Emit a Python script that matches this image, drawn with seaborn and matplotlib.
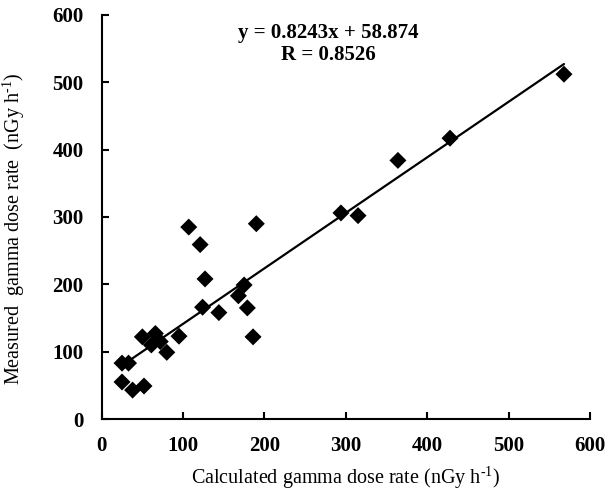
import matplotlib
matplotlib.use("Agg")
import matplotlib.pyplot as plt
import seaborn as sns
import numpy as np
import pandas as pd

# Data
calculated = [25, 33, 25, 38, 52, 50, 66, 61, 72, 80, 95,
              107, 121, 127, 124, 144, 168, 175, 179, 186, 190,
              294, 315, 364, 428, 568]
measured = [83, 83, 55, 43, 49, 122, 127, 110, 115, 99, 123,
            285, 259, 208, 166, 158, 183, 199, 165, 122, 290,
            306, 302, 384, 417, 512]
slope = 0.8243
intercept = 58.874
r_value = 0.8526
ticks = [0, 100, 200, 300, 400, 500, 600]

sns.set_theme(style="ticks")
plt.rcParams['font.family'] = ['Liberation Serif', 'DejaVu Serif']
plt.rcParams['mathtext.fontset'] = 'custom'
plt.rcParams['mathtext.rm'] = 'Liberation Serif'
plt.rcParams['mathtext.it'] = 'Liberation Serif:italic'
plt.rcParams['mathtext.bf'] = 'Liberation Serif:bold'

df = pd.DataFrame({"calc": calculated, "meas": measured})
xl = np.array([min(calculated), max(calculated)])
line_df = pd.DataFrame({"x": xl, "y": slope * xl + intercept})

fig = plt.figure(figsize=(6.07, 4.91), dpi=100)
ax = fig.add_axes([0.1675, 0.1466, 0.8045, 0.823])

sns.lineplot(data=line_df, x="x", y="y", ax=ax, color="black", linewidth=1.6)
sns.scatterplot(data=df, x="calc", y="meas", ax=ax, marker="D", s=75,
                color="black", edgecolor="none", zorder=3)

ax.set_xlim(0, 600)
ax.set_ylim(0, 600)
ax.set_xticks(ticks)
ax.set_yticks(ticks)
ax.set_xticklabels([str(t) for t in ticks], fontweight="bold", fontsize=15)
ax.set_yticklabels([str(t) for t in ticks], fontweight="bold", fontsize=15)
ax.tick_params(axis="x", direction="in", length=5, width=1.5, pad=12, colors="black")
ax.tick_params(axis="y", direction="in", length=5, width=1.5, pad=13, colors="black")

for s in ["top", "right"]:
    ax.spines[s].set_visible(False)
for s in ["left", "bottom"]:
    ax.spines[s].set_linewidth(1.5)
    ax.spines[s].set_color("black")

ax.set_xlabel(r"Calculated gamma dose rate (nGy h$^{\text{-1}}$)", fontsize=14.5, color="black")
ax.set_ylabel(r"Measured  gamma dose rate  (nGy h$^{\text{-1}}$)", fontsize=14.5, color="black")
ax.xaxis.set_label_coords(0.5, -0.113)
ax.yaxis.set_label_coords(-0.152, 0.47)

ax.text(278, 573, f"y = {slope}x + {intercept}", ha="center", va="center",
        fontsize=15, fontweight="bold", color="black")
ax.text(278, 541, f"R = {r_value}", ha="center", va="center",
        fontsize=15, fontweight="bold", color="black")

fig.savefig("out.png", dpi=100)
